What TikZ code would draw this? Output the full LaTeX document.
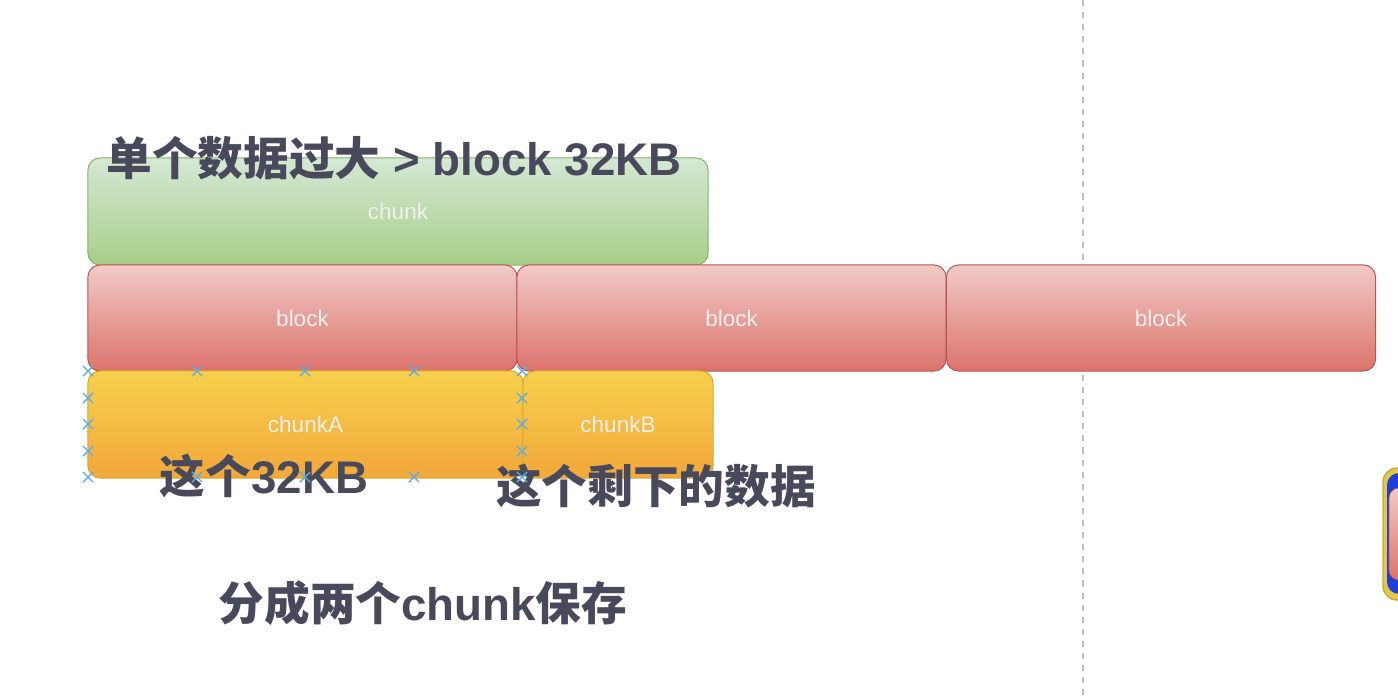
\documentclass[tikz,border=0pt]{standalone}
\usepackage{fontspec}
\setmainfont{Liberation Sans}
\newfontfamily\cjk{Noto Sans CJK SC}
\usetikzlibrary{shapes.misc}
\definecolor{inkgray}{HTML}{484A5C}
\definecolor{greenline}{HTML}{82B366}
\definecolor{greentop}{HTML}{D5E8D4}
\definecolor{greenbot}{HTML}{A6CF88}
\definecolor{redline}{HTML}{B85450}
\definecolor{redtop}{HTML}{F1CAC7}
\definecolor{redbot}{HTML}{DC736B}
\definecolor{orangeline}{HTML}{D6A832}
\definecolor{orangetop}{HTML}{F7D04C}
\definecolor{orangebot}{HTML}{F2A83A}
\definecolor{handleblue}{HTML}{5AACEB}
\definecolor{edgeblue}{HTML}{1F3FD8}
\definecolor{edgeyellow}{HTML}{E3C84A}
\def\zh#1{{\cjk #1}}
\tikzset{
	box/.style={draw, line width=0.7pt, rounded corners=0.3cm, inner sep=0pt, text=white!94!black, font=\fontsize{16}{18}\selectfont},
	chunkbox/.style={box, draw=greenline, top color=greentop, bottom color=greenbot},
	blockbox/.style={box, draw=redline, top color=redtop, bottom color=redbot, minimum width=10.725cm, minimum height=2.65cm},
	partbox/.style={box, draw=orangeline, top color=orangetop, bottom color=orangebot, minimum height=2.675cm},
	handle/.style={cross out, draw=handleblue, line width=1pt, minimum size=0.22cm, inner sep=0pt},
	note/.style={text=inkgray, font=\bfseries\fontsize{32.5}{36}\selectfont, inner sep=0pt}
}
\begin{document}
\begin{tikzpicture}[x=0.025cm, y=-0.025cm]
		%%%%% START %%%%%
		\useasboundingbox (0, 0) rectangle (1398, 696);
		
		\draw[color=black!25, line width=1.4pt, dash pattern=on 4.3pt off 4.3pt] (1083, 0) -- (1083, 696);
		
		\node[chunkbox, minimum width=15.5cm, minimum height=2.675cm] (chunk) at (398, 211.5) {chunk};
		
		\node[blockbox] (blockL) at (302.5, 318) {block};
		\node[blockbox] (blockM) at (731.5, 318) {block};
		\node[blockbox] (blockR) at (1161, 318) {block};
		
		\node[partbox, minimum width=10.875cm] (chunkA) at (305.5, 424.5) {chunkA};
		\node[partbox, minimum width=4.75cm] (chunkB) at (618, 424.5) {chunkB};
		
		% cut-off shape at the right edge
		\draw[draw=edgeyellow!85!black, fill=edgeyellow, line width=1pt, rounded corners=0.35cm] (1383, 468) rectangle (1430, 600);
		\draw[fill=edgeblue, draw=none, rounded corners=0.3cm] (1387, 473) rectangle (1430, 594);
		\draw[top color=redtop, bottom color=redbot, draw=redline, rounded corners=0.25cm] (1389, 488) rectangle (1430, 580);
		
		\node[note] (title) at (394, 158) {\zh{单个数据过大} > block 32KB};
		\node[note] (noteA) at (264, 476) {\zh{这个}32KB};
		\node[note] (noteB) at (656, 486) {\zh{这个剩下的数据}};
		\node[note] (noteC) at (423, 603) {\zh{分成两个}chunk\zh{保存}};
		
		% handles round chunkA
		\foreach \y in {371, 398, 424, 451, 477} {
			\node[handle] at (88, \y) {};
			\node[handle] at (522, \y) {};
		}
		\foreach \x in {197, 305, 414} {
			\node[handle] at (\x, 371) {};
			\node[handle] at (\x, 477) {};
		}
		
		%%%%% END %%%%%
	\end{tikzpicture}
\end{document}
